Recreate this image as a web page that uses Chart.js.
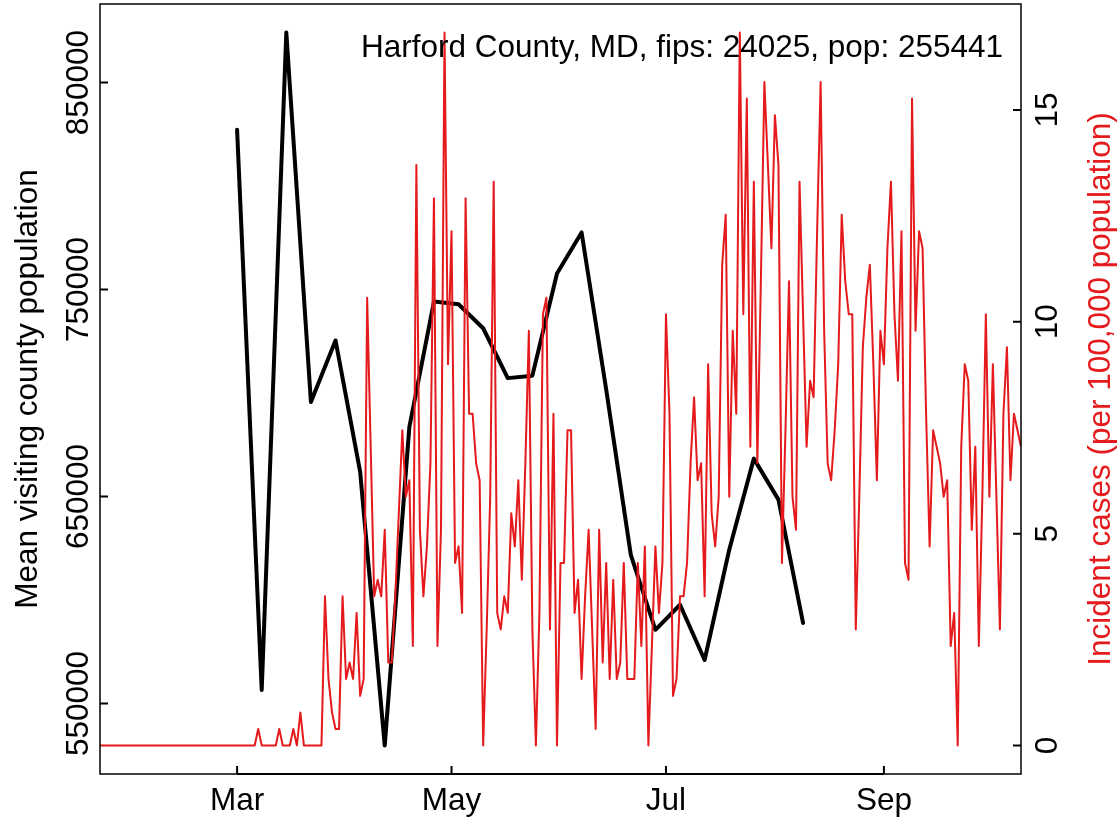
<!DOCTYPE html>
<html>
<head>
<meta charset="utf-8">
<title>Harford County, MD</title>
<script src="https://cdn.jsdelivr.net/npm/chart.js"></script>
<style>
  html, body { margin: 0; padding: 0; background: #fff; }
  canvas { display: block; }
</style>
</head>
<body>
<canvas id="chart" width="1119" height="822"></canvas>
<script>
// daily incident cases per 100,000, starting 2020-01-22
const caseStart = '2020-01-22';
const incidentRate = [
  // Jan 22 - Feb 29
  0, 0, 0, 0, 0, 0, 0, 0, 0, 0,
  0, 0, 0, 0, 0, 0, 0, 0, 0, 0, 0, 0, 0, 0, 0, 0, 0, 0, 0, 0, 0, 0, 0, 0, 0, 0, 0, 0, 0,
  // Mar
  0, 0, 0, 0, 0, 0, 0.39, 0, 0, 0, 0, 0, 0.39, 0, 0, 0, 0.39, 0, 0.78, 0,
  0, 0, 0, 0, 0, 3.52, 1.57, 0.78, 0.39, 0.39, 3.52,
  // Apr
  1.57, 1.96, 1.57, 3.13, 1.17, 1.57, 10.57, 7.05, 3.52, 3.91, 3.52, 5.09, 1.96, 1.96, 3.52,
  5.48, 7.44, 5.87, 6.26, 2.35, 13.70, 5.09, 3.52, 4.70, 6.66, 12.92, 2.35, 5.09, 16.83, 9.00,
  // May
  12.14, 4.31, 4.70, 3.13, 12.92, 7.83, 7.83, 6.66, 6.26, 0, 2.74, 5.87, 13.31, 3.13, 2.74, 3.52,
  3.13, 5.48, 4.70, 6.26, 3.91, 6.66, 9.79, 2.74, 0, 3.13, 10.18, 10.57, 2.74, 7.83, 0,
  // Jun
  4.31, 4.31, 7.44, 7.44, 3.13, 3.91, 1.57, 3.52, 5.09, 2.74, 0.39, 5.09, 1.96, 4.31, 1.57,
  3.91, 1.57, 1.96, 4.31, 1.57, 1.57, 1.57, 4.31, 2.35, 4.70, 0, 2.35, 4.70, 3.13, 4.31,
  // Jul
  10.18, 7.83, 1.17, 1.57, 3.52, 3.52, 4.31, 6.66, 8.22, 6.26, 6.66, 3.52, 9.00, 5.48, 4.70, 5.87,
  11.35, 12.53, 5.87, 9.79, 7.83, 16.83, 10.18, 15.27, 7.05, 13.31, 6.66, 10.96, 15.66, 13.70, 11.74,
  // Aug
  14.88, 13.70, 4.31, 7.44, 10.96, 5.87, 5.09, 13.31, 10.18, 7.05, 8.61, 8.22, 12.14, 15.66, 9.79, 6.66,
  6.26, 7.44, 9.00, 12.53, 10.96, 10.18, 10.18, 2.74, 5.87, 9.40, 10.57, 11.35, 9.00, 6.26, 9.79,
  // Sep
  9.00, 11.74, 13.31, 10.18, 8.61, 12.14, 4.31, 3.91, 15.27, 9.79, 12.14, 11.74, 7.83, 4.70, 7.44,
  7.05, 6.66, 5.87, 6.26, 2.35, 3.13, 0, 7.05, 9.00, 8.61, 5.09, 7.05, 2.35, 5.87, 10.18,
  // Oct 1 - 10
  5.87, 9.00, 5.87, 2.74, 7.83, 9.40, 6.26, 7.83, 7.44, 7.05
];

// weekly mean visiting county population, starting 2020-03-01
const visitStart = '2020-03-01';
const visitingPop = [
  827200, 556500, 874200, 695700, 725400, 662000, 529700, 683500,
  744200, 742900, 731300, 707200, 708400, 757800, 777600, 701700,
  621800, 585600, 597700, 571000, 624300, 668300, 648500, 588900
];

const xTickDates = ['2020-03-01', '2020-05-01', '2020-07-01', '2020-09-01'];
const xTickLabels = ['Mar', 'May', 'Jul', 'Sep'];
const leftTicks = [550000, 650000, 750000, 850000];
const rightTicks = [0, 5, 10, 15];

const titleText = 'Harford County, MD, fips: 24025, pop: 255441';
const leftTitle = 'Mean visiting county population';
const rightTitle = 'Incident cases (per 100,000 population)';

const RED = '#E41A1C';
const FONT = '31.5px "Liberation Sans", Arial, sans-serif';

const dayMs = 86400000;
const dayIndex = (d) => Math.round((Date.parse(d) - Date.parse(caseStart)) / dayMs);

// R style axis range, 4% padding either side
const rRange = (arr) => {
  const lo = Math.min(...arr), hi = Math.max(...arr);
  const pad = (hi - lo) * 0.04;
  return [lo - pad, hi + pad];
};

const redPoints = incidentRate.map((v, i) => ({x: i, y: v}));
const visitOffset = dayIndex(visitStart);
const blackPoints = visitingPop.map((v, i) => ({x: visitOffset + i * 7, y: v}));

const [leftMin, leftMax] = rRange(visitingPop);
const [rightMin, rightMax] = rRange(incidentRate);

// box, inward ticks and all the text, drawn like base R graphics
const rFrame = {
  id: 'rFrame',
  afterDraw(chart) {
    const {ctx, chartArea: a, scales} = chart;
    const tick = 8;
    ctx.save();
    ctx.strokeStyle = '#000';
    ctx.lineWidth = 1.5;
    ctx.strokeRect(a.left, a.top, a.right - a.left, a.bottom - a.top);

    ctx.font = FONT;
    ctx.fillStyle = '#000';

    // x axis
    ctx.textAlign = 'center';
    ctx.textBaseline = 'alphabetic';
    const xs = xTickDates.map(d => scales.x.getPixelForValue(dayIndex(d)));
    ctx.lineWidth = 2;
    ctx.beginPath();
    ctx.moveTo(xs[0], a.bottom);
    ctx.lineTo(xs[xs.length - 1], a.bottom);
    xs.forEach(px => {
      ctx.moveTo(px, a.bottom);
      ctx.lineTo(px, a.bottom - tick);
    });
    ctx.stroke();
    xs.forEach((px, i) => ctx.fillText(xTickLabels[i], px, a.bottom + 36));

    const vText = (txt, x, y) => {
      ctx.save();
      ctx.translate(x, y);
      ctx.rotate(-Math.PI / 2);
      ctx.fillText(txt, 0, 0);
      ctx.restore();
    };

    // left axis
    ctx.beginPath();
    leftTicks.forEach(v => {
      const py = scales.y.getPixelForValue(v);
      ctx.moveTo(a.left, py);
      ctx.lineTo(a.left + tick, py);
    });
    ctx.stroke();
    leftTicks.forEach(v => vText(String(v), a.left - 12, scales.y.getPixelForValue(v)));
    vText(leftTitle, 37, (a.top + a.bottom) / 2);

    // right axis
    ctx.beginPath();
    rightTicks.forEach(v => {
      const py = scales.y1.getPixelForValue(v);
      ctx.moveTo(a.right, py);
      ctx.lineTo(a.right - tick, py);
    });
    ctx.stroke();
    rightTicks.forEach(v => vText(String(v), a.right + 36, scales.y1.getPixelForValue(v)));
    ctx.fillStyle = RED;
    vText(rightTitle, 1110, (a.top + a.bottom) / 2);

    // label in the top right corner
    ctx.fillStyle = '#000';
    ctx.textAlign = 'right';
    ctx.fillText(titleText, 1003, 57);
    ctx.restore();
  }
};

new Chart(document.getElementById('chart'), {
  type: 'line',
  data: {
    datasets: [
      {
        label: 'Incident cases',
        data: redPoints,
        yAxisID: 'y1',
        borderColor: RED,
        borderWidth: 2,
        pointRadius: 0,
        tension: 0,
        borderJoinStyle: 'round',
        order: 1,
      },
      {
        label: 'Mean visiting county population',
        data: blackPoints,
        yAxisID: 'y',
        borderColor: '#000',
        borderWidth: 4,
        pointRadius: 0,
        tension: 0,
        borderJoinStyle: 'round',
        borderCapStyle: 'round',
        order: 2,
      },
    ],
  },
  options: {
    responsive: false,
    animation: false,
    devicePixelRatio: 1,
    layout: {padding: {left: 100, right: 98, top: 4, bottom: 48}},
    plugins: {legend: {display: false}, tooltip: {enabled: false}},
    scales: {
      x: {type: 'linear', display: false, min: 0, max: incidentRate.length - 1},
      y: {type: 'linear', display: false, position: 'left', min: leftMin, max: leftMax},
      y1: {type: 'linear', display: false, position: 'right', min: rightMin, max: rightMax},
    },
  },
  plugins: [rFrame],
});
</script>
</body>
</html>
